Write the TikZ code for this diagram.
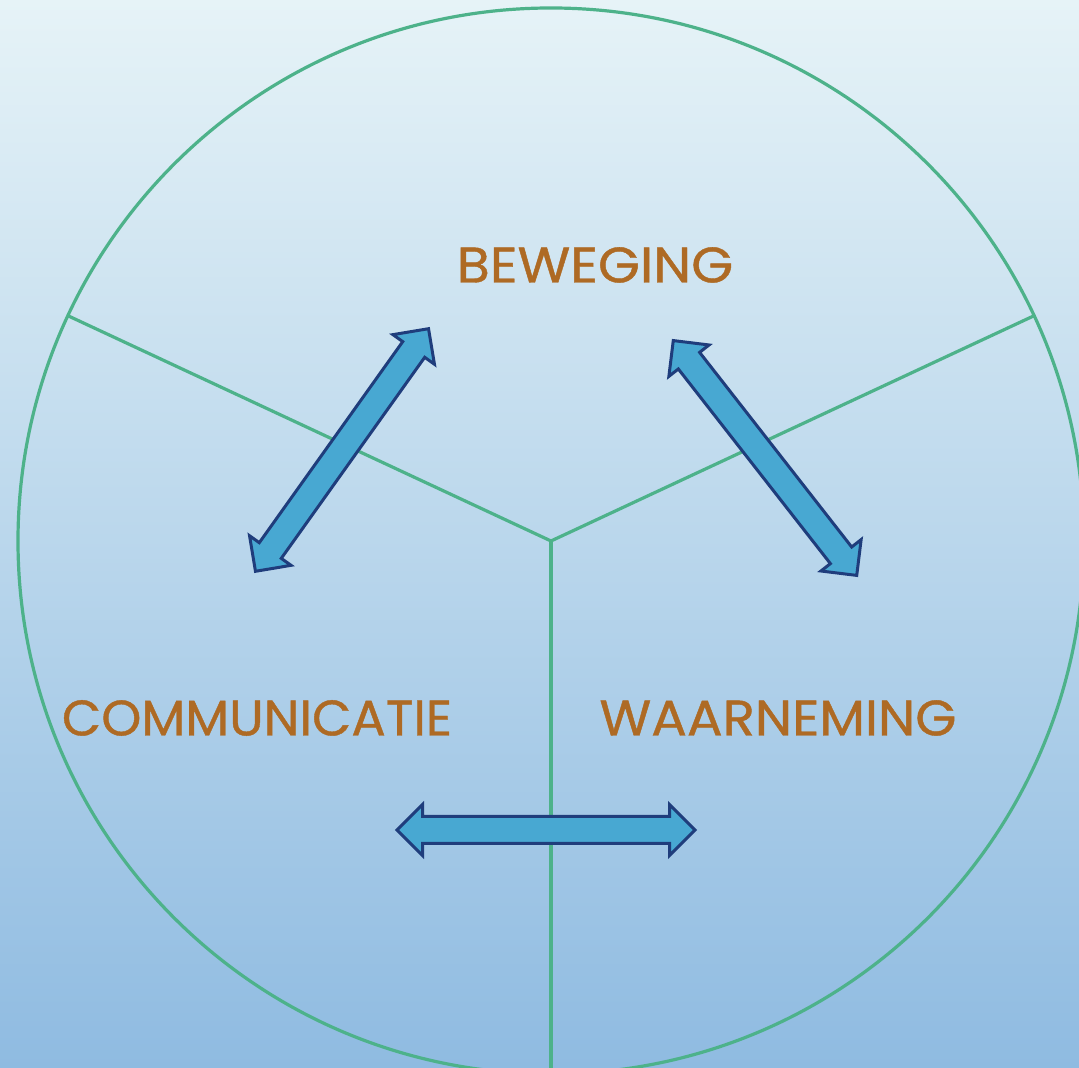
\documentclass[tikz,border=0pt]{standalone}
\usepackage{fontspec}
\setmainfont{Poppins}[FakeBold=0.8]
\usetikzlibrary{shapes.arrows}
\definecolor{ringgreen}{HTML}{4DB28A}
\definecolor{wordbrown}{HTML}{AE6A24}
\definecolor{arrowedge}{HTML}{1F3D7C}
\definecolor{arrowfill}{HTML}{48A8D2}
\definecolor{bgtop}{HTML}{E6F3F7}
\definecolor{bgmid}{HTML}{CFE5EF}
\definecolor{bgbottom}{HTML}{8FBBE1}

\begin{document}
\begin{tikzpicture}[x=1pt,y=1pt,
  word/.style={text=wordbrown,font=\fontsize{50}{50}\selectfont,inner sep=0pt},
  blockarrow/.style={double arrow,draw=arrowedge,fill=arrowfill,line width=3pt,
    minimum height=298pt,inner xsep=0pt,inner ysep=12pt,
    double arrow head extend=12pt,double arrow tip angle=90}]
\shade[top color=bgtop,middle color=bgmid,bottom color=bgbottom](0,0)rectangle(1079,1068);
\clip(0,0)rectangle(1079,1068);

% ring and spokes
\coordinate (c) at (551,527);
\draw[ringgreen,line width=3.2pt](c)circle(533);
\foreach \a in{155,25,270}
{
    \draw[ringgreen,line width=3.2pt](c)--++(\a:533);
}

\node[word,xscale=1.08] (beweging) at (595,803){BEWEGING};
\node[word,xscale=1.02] (communicatie) at (257,350){COMMUNICATIE};
\node[word,xscale=1.06] (waarneming) at (778,350){WAARNEMING};

\node[blockarrow,rotate=54.5] (left) at (342,618){};
\node[blockarrow,rotate=-52] (right) at (765,610){};
\node[blockarrow] (bottom) at (546,238){};

\end{tikzpicture}
\end{document}
